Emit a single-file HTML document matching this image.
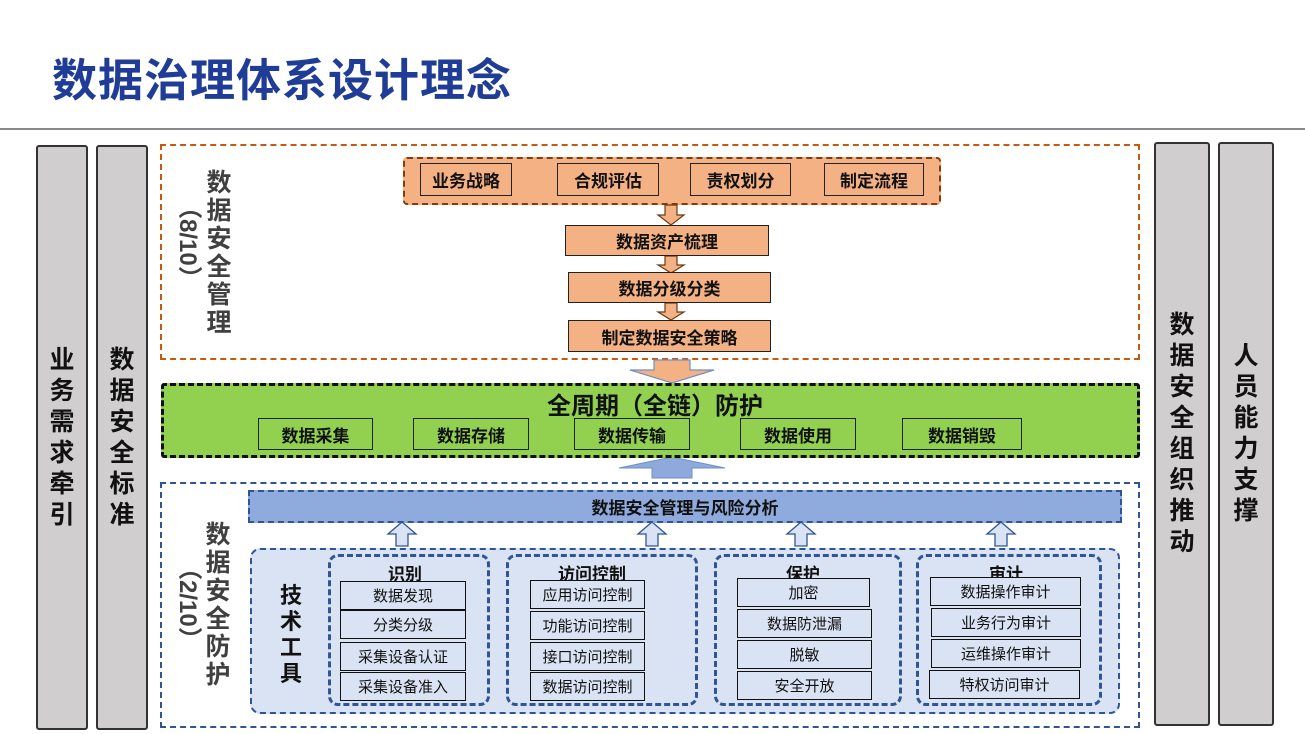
<!DOCTYPE html>
<html><head><meta charset="utf-8"><style>
*{margin:0;padding:0;box-sizing:border-box}
body{width:1305px;height:734px;background:#fff;position:relative;overflow:hidden;font-family:"Liberation Sans","Noto Sans CJK SC",sans-serif}
.a{position:absolute}
.c{display:flex;align-items:center;justify-content:center;text-align:center}
.bar{background:#d0cece;border:2px solid #333;border-radius:3px;font-weight:bold;font-size:25px;line-height:31px;color:#111}
.ob{background:#f4b183;border:1.5px solid #222;font-weight:bold;font-size:17px;color:#111}
.gb{background:#92d050;border:1.5px solid #222;font-weight:bold;font-size:17px;color:#111}
.wb{background:#dae3f3;border:1.5px solid #111;font-size:15px;color:#111}
.grp{border:3px dashed #2f5597;border-radius:10px}
.gt{font-weight:bold;font-size:17px;color:#111}
.vt{font-weight:bold;font-size:25px;line-height:28px;color:#404040}
.paren{writing-mode:vertical-rl;font-weight:bold;font-size:24px;color:#404040}
</style></head><body>
<div class="a" style="left:52px;top:44px;font-size:45px;font-weight:bold;color:#1f3c96;letter-spacing:1px">数据治理体系设计理念</div>
<div class="a" style="left:0;top:128px;width:1305px;height:1.5px;background:#888"></div>

<div class="a c bar" style="left:36px;top:145px;width:52px;height:585px">业<br>务<br>需<br>求<br>牵<br>引</div>
<div class="a c bar" style="left:96px;top:145px;width:52px;height:585px">数<br>据<br>安<br>全<br>标<br>准</div>
<div class="a c bar" style="left:1154px;top:142px;width:56px;height:584px">数<br>据<br>安<br>全<br>组<br>织<br>推<br>动</div>
<div class="a c bar" style="left:1218px;top:142px;width:56px;height:584px">人<br>员<br>能<br>力<br>支<br>撑</div>

<!-- top section -->
<div class="a" style="left:160px;top:144px;width:980px;height:216px;border:2.5px dashed #c55a11"></div>
<div class="a c vt" style="left:204px;top:168px;width:30px;height:170px">数<br>据<br>安<br>全<br>管<br>理</div>
<div class="a paren" style="left:170px;top:195px;height:120px">（8/10）</div>
<div class="a" style="left:403px;top:157px;width:538px;height:48px;background:#f4b183;border:2.5px dashed #843c0c;border-radius:4px"></div>
<div class="a c ob" style="left:420px;top:163px;width:92px;height:33px">业务战略</div>
<div class="a c ob" style="left:557px;top:163px;width:102px;height:33px">合规评估</div>
<div class="a c ob" style="left:690px;top:163px;width:101px;height:33px">责权划分</div>
<div class="a c ob" style="left:824px;top:163px;width:100px;height:33px">制定流程</div>
<svg class="a" style="left:0;top:0" width="1305" height="734">
<g fill="#f4b183" stroke="#6b3b10" stroke-width="1.2">
<path d="M665 205h12v10h7l-13 10-13-10h7z"/>
<path d="M665 256h12v9h7l-13 8-13-8h7z"/>
<path d="M665 303h12v9h7l-13 8-13-8h7z"/>
<path d="M654 360h36v10h24l-42 13-42-13h24z" stroke="#6f8fc7"/>
</g>
<path d="M652 478h40v-10h33l-53-11-53 11h33z" fill="#8eaadb" stroke="#6f8fc7"/>
<g fill="#00b050" stroke="#2f6f9f" stroke-width="1">
<path d="M374 430h30v-4l9 7-9 7v-4h-30z"/>
<path d="M530 430h35v-4l9 7-9 7v-4h-35z"/>
<path d="M690 430h41v-4l9 7-9 7v-4h-41z"/>
<path d="M857 430h36v-4l9 7-9 7v-4h-36z"/>
</g>
<g fill="#dae3f3" stroke="#2f5597" stroke-width="1.3">
<path d="M396 546h12v-12h8l-14-12-14 12h8z"/>
<path d="M646 546h12v-12h8l-14-12-14 12h8z"/>
<path d="M795 546h12v-12h8l-14-12-14 12h8z"/>
<path d="M995 546h12v-12h8l-14-12-14 12h8z"/>
</g>
</svg>
<div class="a c ob" style="left:565px;top:225px;width:204px;height:31px">数据资产梳理</div>
<div class="a c ob" style="left:568px;top:272px;width:203px;height:31px">数据分级分类</div>
<div class="a c ob" style="left:568px;top:320px;width:203px;height:32px">制定数据安全策略</div>

<!-- green -->
<div class="a" style="left:161px;top:383px;width:979px;height:75px;background:#92d050;border:3px dashed #111;border-radius:3px"></div>
<div class="a" style="left:547px;top:386px;font-size:24px;font-weight:bold;color:#111">全周期（全链）防护</div>
<div class="a c gb" style="left:258px;top:418px;width:115px;height:32px">数据采集</div>
<div class="a c gb" style="left:413px;top:418px;width:116px;height:32px">数据存储</div>
<div class="a c gb" style="left:574px;top:418px;width:116px;height:32px">数据传输</div>
<div class="a c gb" style="left:740px;top:418px;width:116px;height:32px">数据使用</div>
<div class="a c gb" style="left:902px;top:418px;width:120px;height:32px">数据销毁</div>

<!-- bottom -->
<div class="a" style="left:160px;top:482px;width:980px;height:246px;border:2.5px dashed #2f5597"></div>
<div class="a c vt" style="left:203px;top:520px;width:30px;height:170px">数<br>据<br>安<br>全<br>防<br>护</div>
<div class="a paren" style="left:170px;top:556px;height:110px">（2/10）</div>
<div class="a c" style="left:248px;top:490px;width:874px;height:33px;background:#8faadc;border:2.5px dashed #2f5597;font-weight:bold;font-size:17px;color:#111">数据安全管理与风险分析</div>
<div class="a" style="left:250px;top:548px;width:870px;height:166px;background:#dae3f3;border:2.5px dashed #2f5597;border-radius:10px"></div>
<div class="a c" style="left:276px;top:585px;width:30px;height:100px;font-weight:bold;font-size:22px;line-height:26px;color:#111">技<br>术<br>工<br>具</div>

<div class="a grp" style="left:328px;top:554px;width:162px;height:152px"></div>
<div class="a gt" style="left:388px;top:560px">识别</div>
<div class="a c wb" style="left:340px;top:581px;width:126px;height:29px">数据发现</div>
<div class="a c wb" style="left:340px;top:610px;width:126px;height:29px">分类分级</div>
<div class="a c wb" style="left:340px;top:642px;width:126px;height:29px">采集设备认证</div>
<div class="a c wb" style="left:340px;top:672px;width:126px;height:29px">采集设备准入</div>

<div class="a grp" style="left:506px;top:554px;width:192px;height:152px"></div>
<div class="a gt" style="left:558px;top:560px">访问控制</div>
<div class="a c wb" style="left:530px;top:580px;width:115px;height:29px">应用访问控制</div>
<div class="a c wb" style="left:530px;top:611px;width:115px;height:29px">功能访问控制</div>
<div class="a c wb" style="left:530px;top:642px;width:115px;height:29px">接口访问控制</div>
<div class="a c wb" style="left:530px;top:672px;width:115px;height:29px">数据访问控制</div>

<div class="a grp" style="left:714px;top:554px;width:188px;height:152px"></div>
<div class="a gt" style="left:786px;top:560px">保护</div>
<div class="a c wb" style="left:737px;top:578px;width:133px;height:29px">加密</div>
<div class="a c wb" style="left:737px;top:609px;width:135px;height:29px">数据防泄漏</div>
<div class="a c wb" style="left:737px;top:640px;width:135px;height:29px">脱敏</div>
<div class="a c wb" style="left:737px;top:671px;width:135px;height:29px">安全开放</div>

<div class="a grp" style="left:916px;top:554px;width:186px;height:152px"></div>
<div class="a gt" style="left:989px;top:560px">审计</div>
<div class="a c wb" style="left:930px;top:577px;width:151px;height:29px">数据操作审计</div>
<div class="a c wb" style="left:931px;top:608px;width:150px;height:29px">业务行为审计</div>
<div class="a c wb" style="left:931px;top:639px;width:150px;height:29px">运维操作审计</div>
<div class="a c wb" style="left:929px;top:670px;width:151px;height:29px">特权访问审计</div>
</body></html>
